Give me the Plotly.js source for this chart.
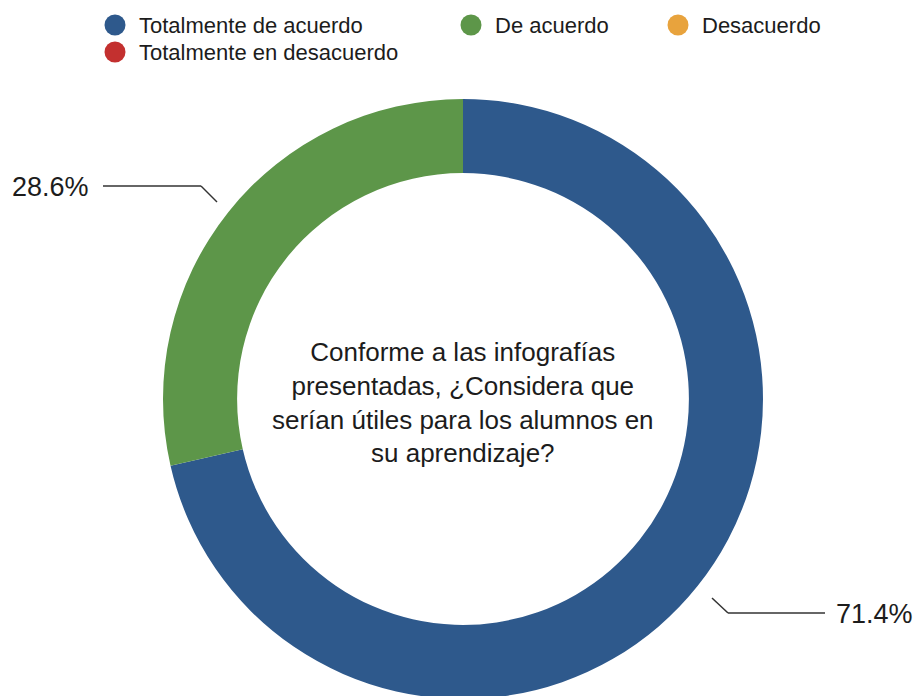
<!DOCTYPE html>
<html>
<head>
<meta charset="utf-8">
<script src="https://cdn.plot.ly/plotly-3.0.1.min.js"></script>
<style>
html, body { margin: 0; padding: 0; overflow: hidden; background: #fff; }
#chart { width: 918px; height: 700px; }
</style>
</head>
<body>
<div id="chart"></div>
<script>
// ---- data ----
const categories = ["Totalmente de acuerdo", "De acuerdo", "Desacuerdo", "Totalmente en desacuerdo"];
const values = [5, 2, 0, 0];
const colors = ["#2e598c", "#5d9649", "#e8a33d", "#c3302f"];
const question = "Conforme a las infografías<br>presentadas, ¿Considera que<br>serían útiles para los alumnos en<br>su aprendizaje?";

// ---- layout constants (pixels) ----
const W = 918, H = 700;
const px = x => x / W;
const py = y => 1 - y / H;
const FONT = "Liberation Sans, Arial, Helvetica, sans-serif";
const TXT = "#1c1c1c";

const total = values.reduce((a, b) => a + b, 0);
const pct = values.map(v => (v / total * 100).toFixed(1) + "%");

// legend positions (marker centre x, y; text x)
const legendPos = [[115, 25, 137], [471, 25, 493], [678, 25, 700], [115, 52, 137]];
const legendOrder = [0, 1, 2, 3];

const shapes = [];
const annotations = [];

legendOrder.forEach((ci, k) => {
  const [cx, cy, tx] = legendPos[k];
  const r = 10.5;
  shapes.push({type: "circle", xref: "paper", yref: "paper",
    x0: px(cx - r), x1: px(cx + r), y0: py(cy + r), y1: py(cy - r),
    fillcolor: colors[ci], line: {width: 0}});
  annotations.push({xref: "paper", yref: "paper", x: px(tx), y: py(cy + 0.5),
    xanchor: "left", yanchor: "middle", showarrow: false,
    text: categories[ci], font: {family: FONT, size: 22, color: TXT}});
});

// leader lines and percentage labels
const leaders = [
  {idx: 1, pts: [[217, 202], [201, 186], [103, 186]], tx: 91, ty: 187, anchor: "right"},
  {idx: 0, pts: [[712, 598], [728, 613], [825, 613]], tx: 834, ty: 614, anchor: "left"}
];
leaders.forEach(L => {
  for (let i = 0; i < L.pts.length - 1; i++) {
    shapes.push({type: "line", xref: "paper", yref: "paper",
      x0: px(L.pts[i][0]), y0: py(L.pts[i][1]), x1: px(L.pts[i+1][0]), y1: py(L.pts[i+1][1]),
      line: {color: "#333", width: 1.5}});
  }
  annotations.push({xref: "paper", yref: "paper", x: px(L.tx), y: py(L.ty),
    xanchor: L.anchor, yanchor: "middle", showarrow: false,
    text: pct[L.idx], font: {family: FONT, size: 27, color: TXT}});
});

// centre question
annotations.push({xref: "paper", yref: "paper", x: px(463), y: py(402),
  xanchor: "center", yanchor: "middle", showarrow: false, align: "center",
  text: question, font: {family: FONT, size: 26, color: TXT}});

const trace = {
  type: "pie",
  labels: categories,
  values: values,
  marker: {colors: colors, line: {width: 0}},
  hole: 0.753,
  sort: false,
  direction: "clockwise",
  rotation: 0,
  textinfo: "none",
  hoverinfo: "label+percent",
  showlegend: false,
  domain: {x: [px(163), px(763)], y: [py(699), py(99)]}
};

const layout = {
  width: W, height: H,
  margin: {l: 0, r: 0, t: 0, b: 0},
  paper_bgcolor: "#ffffff",
  showlegend: false,
  shapes: shapes,
  annotations: annotations,
  font: {family: FONT}
};

Plotly.newPlot("chart", [trace], layout, {displayModeBar: false, staticPlot: true});
</script>
</body>
</html>
